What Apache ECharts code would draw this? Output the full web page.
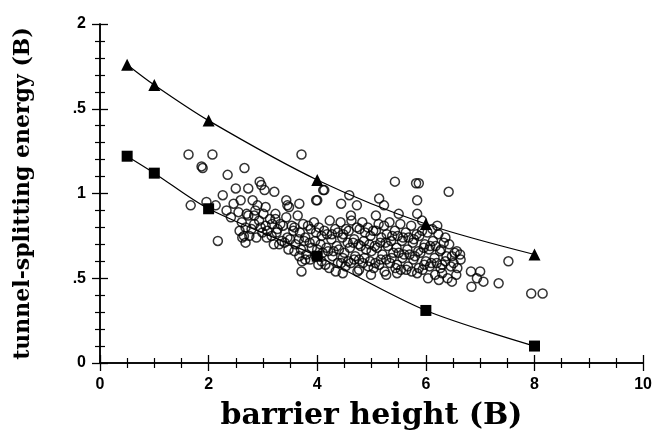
<!DOCTYPE html>
<html>
<head>
<meta charset="utf-8">
<script src="https://cdn.jsdelivr.net/npm/echarts@6/dist/echarts.min.js"></script>
<style>
  html, body { margin: 0; padding: 0; background: #fff; }
  #main { width: 655px; height: 436px; }
</style>
</head>
<body>
<div id="main"></div>
<script>
  // tick labels as printed in the figure
  var yTickLabels = {0: '0', 0.5: '.5', 1: '1', 1.5: '.5', 2: '2'}
  var xTickLabels = ['0', '2', '4', '6', '8', '10']

  // upper curve (triangles)
  var triX = [0.5, 1, 2, 4, 6, 8]
  var triY = [1.76, 1.64, 1.43, 1.08, 0.82, 0.64]
  // lower curve (squares)
  var sqX = [0.5, 1, 2, 4, 6, 8]
  var sqY = [1.22, 1.12, 0.91, 0.63, 0.31, 0.10]

  // open circles - scattered outer points
  var outerPts = [
    [1.63,1.23],[2.07,1.23],[1.87,1.16],[1.89,1.15],[1.67,0.93],[2.35,1.11],[2.66,1.15],
    [2.94,1.07],[2.97,1.05],[2.50,1.03],[2.73,1.03],[2.26,0.99],[2.59,0.96],[2.81,0.96],
    [3.03,1.02],[3.21,1.01],[2.46,0.94],[2.13,0.93],[1.96,0.95],[3.05,0.92],[2.55,0.89],
    [2.70,0.88],[3.43,0.96],[3.45,0.93],[3.48,0.92],[2.17,0.72],[2.62,0.74],[2.68,0.71],
    [2.65,0.75],[3.23,0.88],[3.71,1.23],[4.13,1.02],[3.98,0.96],[3.67,0.94],[5.43,1.07],
    [5.82,1.06],[4.11,1.02],[4.00,0.96],[4.59,0.99],[4.44,0.94],[4.73,0.93],[5.14,0.97],
    [5.23,0.93],[5.50,0.88],[4.62,0.87],[5.08,0.87],[3.71,0.54],[3.72,0.60],[5.87,1.06],
    [6.42,1.01],[5.84,0.96],[5.84,0.88],[7.52,0.60],[7.34,0.47],[6.84,0.45],[7.06,0.48],
    [6.83,0.54],[7.00,0.54],[6.48,0.48],[6.30,0.53],[6.64,0.61],[6.57,0.66],[6.51,0.59],
    [7.94,0.41],[8.15,0.41],[6.94,0.50],[2.90,0.93],[2.84,0.87],[5.93,0.84],[6.12,0.79],
    [6.21,0.81],[6.36,0.74],[2.41,0.86],[2.33,0.90]
  ]

  // open circles - dense band
  var bandPts = [
    [2.61,0.83],[2.57,0.78],[2.73,0.87],[2.68,0.80],[2.75,0.75],[2.84,0.82],[2.79,0.79],
    [2.86,0.90],[2.93,0.84],[2.96,0.80],[2.88,0.74],[3.01,0.88],[3.05,0.81],[2.99,0.77],
    [3.07,0.74],[3.13,0.85],[3.08,0.78],[3.16,0.75],[3.23,0.85],[3.17,0.82],[3.25,0.77],
    [3.20,0.70],[3.32,0.82],[3.27,0.79],[3.35,0.72],[3.30,0.70],[3.43,0.86],[3.37,0.81],
    [3.45,0.74],[3.40,0.71],[3.47,0.67],[3.53,0.81],[3.56,0.78],[3.50,0.73],[3.58,0.66],
    [3.64,0.87],[3.58,0.80],[3.66,0.73],[3.60,0.70],[3.67,0.63],[3.74,0.82],[3.68,0.77],
    [3.76,0.72],[3.70,0.67],[3.78,0.61],[3.83,0.81],[3.78,0.74],[3.86,0.71],[3.80,0.64],
    [3.87,0.61],[3.94,0.83],[3.88,0.79],[3.96,0.72],[3.90,0.68],[3.97,0.63],[4.03,0.80],
    [3.98,0.77],[4.06,0.70],[4.00,0.67],[4.08,0.60],[4.02,0.58],[4.13,0.78],[4.08,0.75],
    [4.17,0.68],[4.10,0.65],[4.15,0.58],[4.23,0.84],[4.18,0.76],[4.26,0.73],[4.20,0.66],
    [4.28,0.63],[4.22,0.56],[4.33,0.79],[4.27,0.76],[4.36,0.69],[4.30,0.66],[4.38,0.59],
    [4.34,0.54],[4.43,0.83],[4.38,0.77],[4.46,0.74],[4.40,0.67],[4.47,0.62],[4.44,0.59],
    [4.53,0.79],[4.48,0.76],[4.56,0.71],[4.50,0.65],[4.57,0.60],[4.52,0.57],[4.47,0.53],
    [4.63,0.84],[4.58,0.78],[4.66,0.71],[4.60,0.68],[4.68,0.61],[4.62,0.59],[4.73,0.80],
    [4.68,0.73],[4.76,0.70],[4.70,0.63],[4.77,0.61],[4.74,0.54],[4.83,0.83],[4.78,0.79],
    [4.86,0.72],[4.80,0.69],[4.87,0.62],[4.84,0.59],[4.77,0.55],[4.93,0.80],[4.88,0.77],
    [4.96,0.70],[4.90,0.67],[4.97,0.60],[4.94,0.57],[5.03,0.78],[4.98,0.75],[5.06,0.69],
    [5.00,0.66],[5.07,0.59],[5.04,0.56],[4.99,0.52],[5.13,0.82],[5.08,0.78],[5.16,0.71],
    [5.10,0.68],[5.17,0.61],[5.14,0.58],[5.23,0.81],[5.18,0.74],[5.26,0.71],[5.20,0.64],
    [5.27,0.61],[5.24,0.54],[5.33,0.83],[5.28,0.76],[5.36,0.72],[5.30,0.69],[5.37,0.62],
    [5.34,0.59],[5.27,0.52],[5.43,0.78],[5.38,0.75],[5.46,0.68],[5.40,0.65],[5.47,0.58],
    [5.44,0.56],[5.53,0.82],[5.48,0.75],[5.56,0.72],[5.50,0.65],[5.57,0.62],[5.54,0.55],
    [5.47,0.53],[5.63,0.77],[5.58,0.74],[5.66,0.67],[5.60,0.64],[5.67,0.57],[5.64,0.55],
    [5.73,0.81],[5.68,0.74],[5.76,0.71],[5.70,0.64],[5.77,0.61],[5.74,0.54],[5.83,0.76],
    [5.78,0.73],[5.86,0.66],[5.80,0.63],[5.87,0.56],[5.84,0.53],[5.93,0.78],[5.88,0.75],
    [5.96,0.68],[5.90,0.65],[5.97,0.58],[5.94,0.55],[6.03,0.77],[5.98,0.70],[6.06,0.67],
    [6.00,0.60],[6.07,0.57],[6.04,0.50],[6.13,0.72],[6.08,0.69],[6.16,0.62],[6.10,0.59],
    [6.17,0.52],[6.23,0.76],[6.18,0.69],[6.26,0.66],[6.20,0.59],[6.27,0.56],[6.24,0.49],
    [6.33,0.71],[6.28,0.67],[6.36,0.60],[6.30,0.58],[6.43,0.70],[6.38,0.63],[6.46,0.57],
    [6.40,0.50],[6.53,0.65],[6.48,0.63],[6.56,0.52],[6.63,0.64],[6.58,0.56]
  ]

  var triData = triX.map(function (x, i) { return [x, triY[i]] })
  var sqData = sqX.map(function (x, i) { return [x, sqY[i]] })
  var circleData = outerPts.concat(bandPts)

  var tickFont = 'Liberation Sans Narrow, Liberation Sans, Arial, sans-serif'
  var titleFont = 'DejaVu Serif, Liberation Serif, serif'

  var chart = echarts.init(document.getElementById('main'))
  chart.setOption({
    animation: false,
    backgroundColor: '#fff',
    grid: { left: 100, right: 10, top: 24, bottom: 67 },
    xAxis: [{
      type: 'value', min: 0, max: 10, interval: 2,
      name: 'barrier height (B)', nameLocation: 'middle', nameGap: 38,
      nameTextStyle: { fontFamily: titleFont, fontWeight: 'bold', fontSize: 30, color: '#000' },
      axisLine: { show: true, lineStyle: { color: '#000', width: 1.5 } },
      axisTick: { show: true, inside: true, length: 8, lineStyle: { color: '#000', width: 1.3 } },
      minorTick: { show: true, splitNumber: 4, length: 5, lineStyle: { color: '#000', width: 1.2 } },
      axisLabel: {
        margin: 14, fontFamily: tickFont, fontSize: 16, fontWeight: 'bold', color: '#000',
        formatter: function (v) { return xTickLabels[Math.round(v / 2)] }
      },
      splitLine: { show: false }
    }, {
      type: 'value', position: 'top', min: 0, max: 10, interval: 2,
      axisLine: { show: true, lineStyle: { color: '#000', width: 1.5 } },
      axisTick: { show: true, inside: true, length: 8, lineStyle: { color: '#000', width: 1.3 } },
      minorTick: { show: true, splitNumber: 4, length: 5, lineStyle: { color: '#000', width: 1.2 } },
      axisLabel: { show: false },
      splitLine: { show: false }
    }],
    yAxis: [{
      type: 'value', min: 0, max: 2, interval: 0.5,
      name: 'tunnel-splitting energy (B)', nameLocation: 'middle', nameGap: 66,
      nameTextStyle: { fontFamily: titleFont, fontWeight: 'bold', fontSize: 22, color: '#000' },
      axisLine: { show: true, lineStyle: { color: '#000', width: 1.5 } },
      axisTick: { show: true, inside: true, length: 8, lineStyle: { color: '#000', width: 1.3 } },
      minorTick: { show: true, splitNumber: 5, length: 5, lineStyle: { color: '#000', width: 1.2 } },
      axisLabel: {
        margin: 14, fontFamily: tickFont, fontSize: 16, fontWeight: 'bold', color: '#000',
        formatter: function (v) { return yTickLabels[v] }
      },
      splitLine: { show: false }
    }, {
      type: 'value', position: 'right', min: 0, max: 2, interval: 0.5,
      axisLine: { show: true, lineStyle: { color: '#000', width: 1.5 } },
      axisTick: { show: true, inside: true, length: 8, lineStyle: { color: '#000', width: 1.3 } },
      minorTick: { show: true, splitNumber: 5, length: 5, lineStyle: { color: '#000', width: 1.2 } },
      axisLabel: { show: false },
      splitLine: { show: false }
    }],
    series: [{
      type: 'scatter',
      data: circleData,
      symbol: 'circle',
      symbolSize: 9,
      itemStyle: { color: 'rgba(0,0,0,0)', borderColor: '#000', borderWidth: 1.5 },
      z: 2
    }, {
      type: 'line',
      data: triData,
      smooth: 0.3,
      symbol: 'triangle',
      symbolSize: 12,
      itemStyle: { color: '#000' },
      lineStyle: { color: '#000', width: 1.2 },
      z: 3
    }, {
      type: 'line',
      data: sqData,
      smooth: 0.3,
      symbol: 'rect',
      symbolSize: 11,
      itemStyle: { color: '#000' },
      lineStyle: { color: '#000', width: 1.2 },
      z: 3
    }]
  })
</script>
</body>
</html>
